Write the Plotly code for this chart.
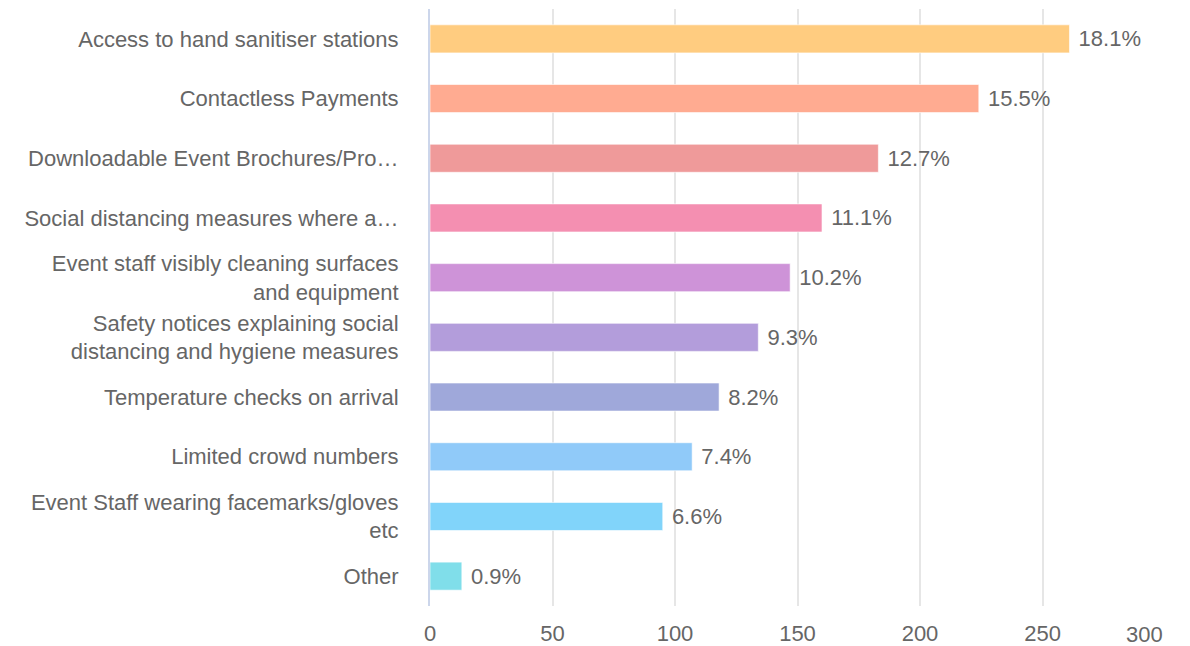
import plotly.graph_objects as go

# answers, top to bottom as shown
labels = [
    "Access to hand sanitiser stations",
    "Contactless Payments",
    "Downloadable Event Brochures/Pro…",
    "Social distancing measures where a…",
    "Event staff visibly cleaning surfaces<br>and equipment",
    "Safety notices explaining social<br>distancing and hygiene measures",
    "Temperature checks on arrival",
    "Limited crowd numbers",
    "Event Staff wearing facemarks/gloves<br>etc",
    "Other",
]
counts = [261, 224, 183, 160, 147, 134, 118, 107, 95, 13]
pct_labels = ["18.1%", "15.5%", "12.7%", "11.1%", "10.2%", "9.3%", "8.2%", "7.4%", "6.6%", "0.9%"]
colors = ["#FFCC80", "#FFAB91", "#EF9A9A", "#F48FB1", "#CE93D8",
          "#B39DDB", "#9FA8DA", "#90CAF9", "#81D4FA", "#80DEEA"]

x_ticks = [0, 50, 100, 150, 200, 250, 300]
x_tick_text = ["0", "50", "100", "150", "200", "250", "300"]

fig = go.Figure(go.Bar(
    x=counts, y=labels, orientation="h",
    marker=dict(color=colors, line=dict(color="rgba(255,255,255,0.6)", width=1)),
    text=["\u00a0" + p for p in pct_labels],
    textposition="outside", cliponaxis=False,
    textfont=dict(size=22, color="#666666"),
    hoverinfo="x+y",
))

# page has an 8px body margin, so the figure is a bit smaller than the window
fig.update_layout(
    width=1182, height=638,
    margin=dict(l=422, r=24, t=1, b=40),
    plot_bgcolor="white", paper_bgcolor="white",
    font=dict(family="Liberation Sans, Arial, sans-serif", size=22, color="#666666"),
    bargap=0.53, showlegend=False,
)
# the last tick label is pulled inside the edge, like the original
fig.update_xaxes(range=[0, 300.4], tickvals=x_ticks, ticktext=x_tick_text[:-1] + [""],
                 showgrid=True, gridcolor="#e6e6e6", gridwidth=2,
                 zeroline=False, showline=False, ticklabelstandoff=12, automargin=False,
                 tickfont=dict(size=22, color="#666666"))
fig.add_annotation(x=x_ticks[-1], y=0, xref="x", yref="paper", text=x_tick_text[-1],
                   showarrow=False, xanchor="right", yanchor="middle", yshift=-28,
                   font=dict(size=22, color="#666666"))
fig.update_yaxes(autorange="reversed", showline=True, linecolor="#ccd6eb", linewidth=2,
                 ticklabelstandoff=25, automargin=False,
                 tickfont=dict(size=22, color="#666666"))

fig.write_html("out.html")
